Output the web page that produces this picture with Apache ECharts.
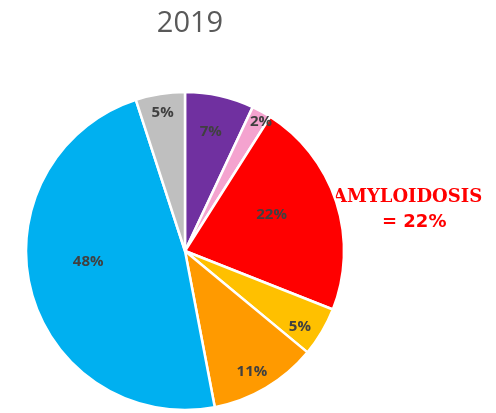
<!DOCTYPE html>
<html>
<head>
<meta charset="utf-8">
<style>
  html, body { margin: 0; padding: 0; background: #fff; }
  #chart { width: 496px; height: 413px; }
</style>
<script src="https://cdn.jsdelivr.net/npm/echarts@6/dist/echarts.min.js"></script>
</head>
<body>
<div id="chart"></div>
<script>
// Share of cases by category, 2019 (percent)
const categories = ['Category 1', 'Category 2', 'Amyloidosis', 'Category 4', 'Category 5', 'Category 6', 'Category 7'];
const values = [7, 2, 22, 5, 11, 48, 5];
const sliceColors = ['#7030A0', '#F4A3CF', '#FF0000', '#FFC000', '#FF9A00', '#00B0F0', '#BFBFBF'];

const CENTER = [185, 251];
const R = 159;

// Each value label sits on its own ring (fraction of the radius),
// with a small pixel nudge so it clears the slice edges.
const labelRing = [0.78, 0.96, 0.6, 0.85, 0.87, 0.61, 0.88];
const labelNudge = [[-2, 5], [1, 7], [-7, -6], [-4, 5], [-5, -1], [0, -14], [0, 3]];

const chart = echarts.init(document.getElementById('chart'));

const pieData = categories.map((name, i) => ({
  name,
  value: values[i],
  itemStyle: { color: sliceColors[i] }
}));

// Transparent label-only rings: an 'inside' label lands at (r0 + r) / 2.
const rings = [...new Set(labelRing)];
const labelSeries = rings.map(k => ({
  type: 'pie',
  silent: true,
  center: CENTER,
  radius: [(2 * k - 1) * R, R],
  startAngle: 90,
  clockwise: true,
  animation: false,
  itemStyle: { color: 'rgba(0,0,0,0)', borderWidth: 0 },
  label: {
    position: 'inside',
    formatter: '{c}%',
    color: '#404040',
    fontFamily: 'Open Sans',
    fontWeight: 'bold',
    fontSize: 15
  },
  labelLayout: p => ({ dx: labelNudge[p.dataIndex][0], dy: labelNudge[p.dataIndex][1] }),
  labelLine: { show: false },
  emphasis: { disabled: true },
  data: categories.map((name, i) => ({
    name,
    value: values[i],
    label: { show: labelRing[i] === k }
  }))
}));

chart.setOption({
  backgroundColor: '#ffffff',
  title: {
    text: '2019',
    left: CENTER[0],
    textAlign: 'center',
    top: 4,
    textStyle: {
      color: '#595959',
      fontFamily: 'Open Sans',
      fontWeight: 'normal',
      fontSize: 29
    }
  },
  series: [
    {
      type: 'pie',
      center: CENTER,
      radius: [0, R],
      startAngle: 90,
      clockwise: true,
      animation: false,
      itemStyle: { borderColor: '#ffffff', borderWidth: 2.5 },
      label: { show: false },
      labelLine: { show: false },
      data: pieData
    },
    ...labelSeries
  ],
  graphic: [
    {
      type: 'text',
      left: 333,
      top: 188,
      style: {
        text: 'AMYLOIDOSIS',
        fill: '#FF0000',
        font: 'bold 18px "DejaVu Serif"'
      }
    },
    {
      type: 'text',
      left: 382,
      top: 213,
      style: {
        text: '= 22%',
        fill: '#FF0000',
        font: 'bold 18px "DejaVu Sans"'
      }
    }
  ]
});
</script>
</body>
</html>
